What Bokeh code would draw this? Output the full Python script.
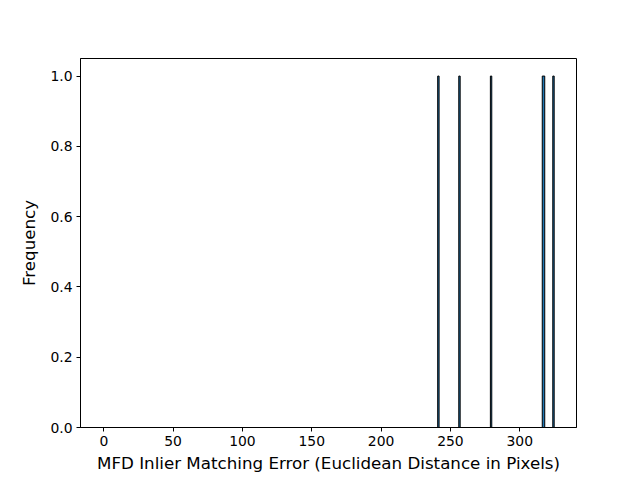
from bokeh.plotting import figure
from bokeh.models import Range1d, FixedTicker, PrintfTickFormatter, ColumnDataSource
from bokeh.embed import file_html
from bokeh.resources import INLINE

# Histogram bins (left edge, right edge) and counts
bin_left = [240.8, 256.0, 278.8, 316.2, 323.8]
bin_right = [241.8, 257.0, 279.8, 318.0, 324.8]
counts = [1, 1, 1, 1, 1]

x_ticks = [0, 50, 100, 150, 200, 250, 300]
y_ticks = [0.0, 0.2, 0.4, 0.6, 0.8, 1.0]

src = ColumnDataSource(dict(left=bin_left, right=bin_right, top=counts, bottom=[0] * len(counts)))

p = figure(width=640, height=480, output_backend="svg", toolbar_location=None,
           x_range=Range1d(-16.8, 340.9), y_range=Range1d(0, 1.05),
           min_border_left=80, min_border_right=64, min_border_top=58, min_border_bottom=53)

p.quad(left="left", right="right", top="top", bottom="bottom", source=src,
       fill_color="#1f77b4", line_color="black", line_width=1)

p.xgrid.visible = False
p.ygrid.visible = False
p.outline_line_color = "black"
p.outline_line_width = 1
p.outline_line_alpha = 1
p.background_fill_color = "white"
p.border_fill_color = "white"

p.xaxis.ticker = FixedTicker(ticks=x_ticks)
p.yaxis.ticker = FixedTicker(ticks=y_ticks)
p.yaxis.formatter = PrintfTickFormatter(format="%.1f")

for ax in (p.xaxis, p.yaxis):
    ax.major_tick_out = 4
    ax.major_tick_in = 0
    ax.minor_tick_line_color = None
    ax.axis_line_color = "black"
    ax.major_tick_line_color = "black"
    ax.major_label_text_font = "DejaVu Sans"
    ax.major_label_text_font_size = "13.9px"
    ax.major_label_text_color = "black"
    ax.axis_label_text_font = "DejaVu Sans"
    ax.axis_label_text_font_size = "16.7px"
    ax.axis_label_text_font_style = "normal"
    ax.axis_label_text_color = "black"
    ax.major_label_standoff = 4

p.xaxis.axis_label = "MFD Inlier Matching Error (Euclidean Distance in Pixels)"
p.yaxis.axis_label = "Frequency"
p.xaxis.axis_label_standoff = 4
p.yaxis.axis_label_standoff = 8

open("out.html", "w").write(file_html(p, INLINE))
